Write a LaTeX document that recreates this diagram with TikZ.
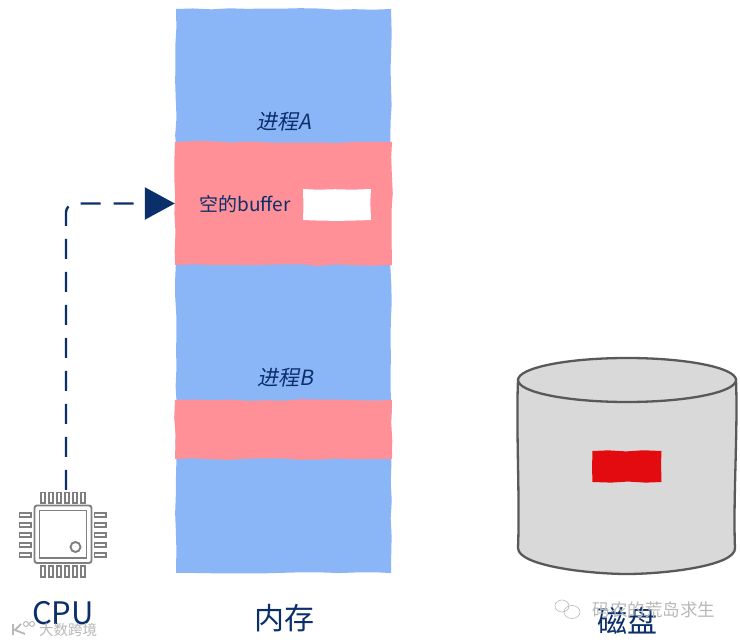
\documentclass[tikz,border=0pt]{standalone}
\usepackage{fontspec}
\setmainfont{Noto Sans CJK SC}
\newfontfamily\slantcjk[FakeSlant=0.2]{Noto Sans CJK SC}
\usetikzlibrary{arrows.meta, decorations.pathmorphing, positioning}
\definecolor{memblue}{HTML}{8AB6F7}
\definecolor{procpink}{HTML}{FF9097}
\definecolor{labelnavy}{HTML}{0B2F6B}
\definecolor{chipgray}{HTML}{7F7F7F}
\definecolor{diskgray}{HTML}{D9D9D9}
\definecolor{diskline}{HTML}{595959}
\definecolor{diskred}{HTML}{E30B0F}
\definecolor{markgray}{HTML}{B8B8B8}
\tikzset{
  rough/.style={decorate,decoration={random steps,segment length=18pt,amplitude=0.9pt}},
  block/.style={rough,inner sep=0pt,minimum width=#1},
  title/.style={text=labelnavy,font=\fontsize{30}{30}\selectfont},
  proclabel/.style={text=labelnavy,font=\slantcjk\fontsize{21}{21}\selectfont},
  chippin/.style={draw=chipgray,line width=1.9pt},
  diskedge/.style={draw=diskline,fill=diskgray,line width=2.3pt},
  watermark/.style={text=markgray}
}
\begin{document}
\begin{tikzpicture}[x=1pt,y=-1pt]
    \useasboundingbox (0,0) rectangle (740,644);
    \pgfmathsetseed{11}
    % memory column
    \node[block=215pt,minimum height=564pt,fill=memblue] (memory) at (283.5,291) {};
    \node[block=217pt,minimum height=123pt,fill=procpink] (bufa) at (283.5,203.5) {};
    \node[block=217pt,minimum height=59pt,fill=procpink] (bufb) at (283.5,429.5) {};
    \node[block=68pt,minimum height=31pt,fill=white] (empty) at (337,204.5) {};
    \node[proclabel] (proca) at (284,122) {进程A};
    \node[proclabel] (procb) at (285,378) {进程B};
    \node[text=labelnavy,font=\fontsize{19}{19}\selectfont] (emptylabel) at (245,204) {空的buffer};
    % cpu
    \node[inner sep=0pt,minimum width=87pt,minimum height=88pt] (cpu) at (63,534) {};
    \foreach \x in {43,51,59,67,75,83} {
      \draw[chippin] (\x-2.3,492.5) rectangle (\x+2.3,503);
      \draw[chippin] (\x-2.3,566) rectangle (\x+2.3,577);
    }
    \foreach \y in {515,525,535,545,555} {
      \draw[chippin] (19.5,\y-2.3) rectangle (31,\y+2.3);
      \draw[chippin] (94.5,\y-2.3) rectangle (106,\y+2.3);
    }
    \draw[chippin,rounded corners=2.5pt] (34.5,505.5) rectangle (91.5,563);
    \draw[chippin] (39.5,510.5) rectangle (86.5,558);
    \draw[chippin] (75.5,547) circle (5pt);
    \draw[labelnavy,line width=2.4pt,dash pattern=on 20pt off 13pt,rounded corners=9pt,-{Triangle[length=30pt,width=32pt]}]
      ([xshift=3pt]cpu.north) |- (bufa.west);
    % disk
    \draw[diskedge]
      (518,380)
      .. controls (516,430) and (520,500) .. (518,548)
      .. controls (518,566) and (590,574) .. (627,574)
      .. controls (664,574) and (736,566) .. (735,548)
      .. controls (733,500) and (738,430) .. (736,380) -- cycle;
    \draw[diskedge] (627,380) ellipse (109pt and 22pt);
    \node[block=69pt,minimum height=31pt,fill=diskred] (sector) at (627,466.5) {};
    % captions
    \node[title,font=\fontsize{31}{31}\selectfont] (cpulabel) at (63,613) {CPU};
    \node[title] (memlabel) at (284,618) {内存};
    \node[title] (disklabel) at (627,621) {磁盘};
    % watermarks
    \node[watermark,font=\fontsize{17.5}{17.5}\selectfont] (markright) at (654,610) {码农的荒岛求生};
    \node[watermark,font=\fontsize{14.5}{14.5}\selectfont] (markleft) at (68,630) {大数跨境};
    \draw[markgray,line width=0.6pt] (562,606) ellipse (7pt and 6pt) (572,612) ellipse (8pt and 6.5pt);
    \draw[markgray,line width=1.8pt] (13,624) -- (13,635) (21,624) -- (15,630) -- (25,634);
    \draw[markgray,line width=1pt] (26,624) circle (2.5pt) (32,624) circle (2.5pt);
\end{tikzpicture}
\end{document}
